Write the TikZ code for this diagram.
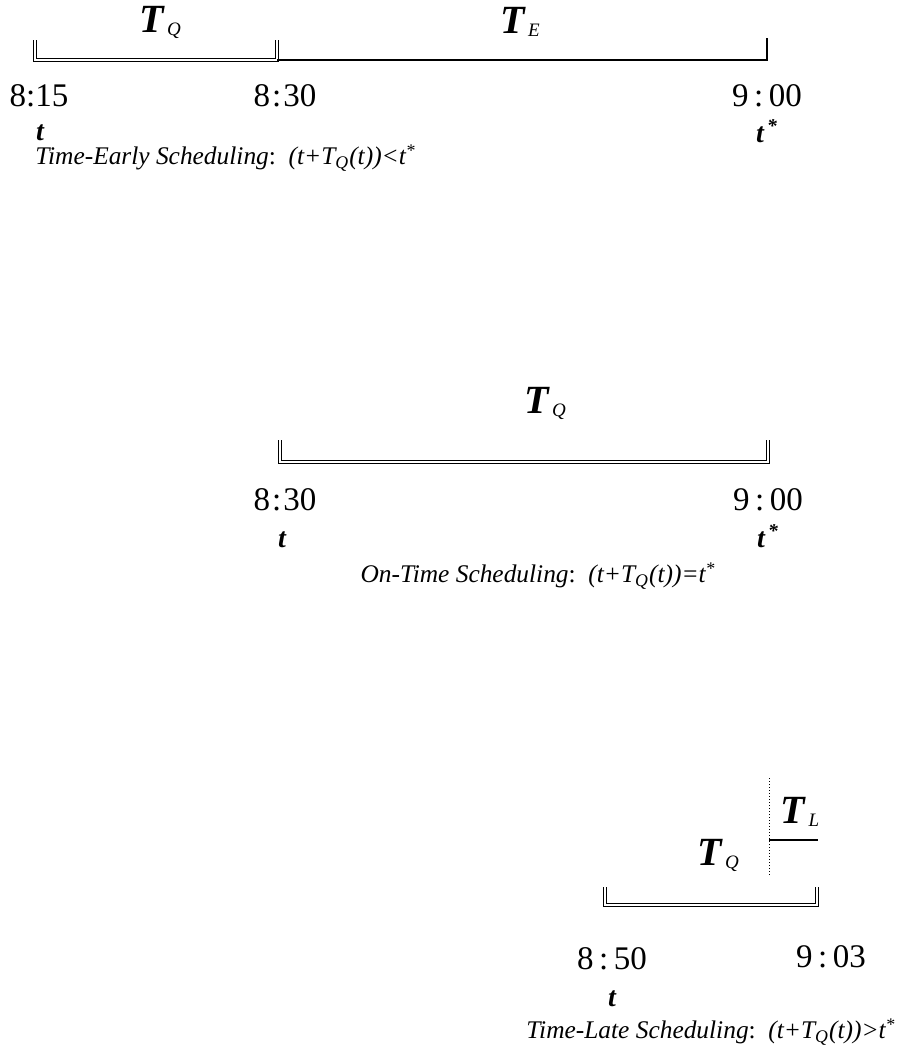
\documentclass[tikz,border=0pt]{standalone}
\usepackage{fontspec}
\setmainfont{Liberation Serif}
\usetikzlibrary{positioning}

\newcommand{\spanT}[1]{{\fontsize{20}{20}\selectfont\bfseries\itshape T}\,\raisebox{-1.5pt}{\fontsize{9.5}{9.5}\selectfont\itshape #1}}
\newcommand{\tstar}{\textit{t}\textsuperscript{\,*}}

\begin{document}
\begin{tikzpicture}[
    x=0.5pt, y=-0.5pt,
    timelab/.style={
        inner sep=0pt,
        font=\fontsize{16.5}{16.5}\selectfont
    },
    varlab/.style={
        inner sep=0pt,
        font=\fontsize{14}{14}\selectfont\bfseries\itshape
    },
    caption/.style={
        inner sep=0pt,
        font=\fontsize{12.7}{13}\selectfont\itshape
    },
    spanlab/.style={
        inner sep=0pt
    },
    dbl/.style={
        double,
        double distance=0.6pt,
        line width=0.7pt
    },
    sgl/.style={
        line width=0.6pt
    }
]
\useasboundingbox (0,0) rectangle (898,1056);

% Time-Early
\coordinate (ea) at (35,60);
\coordinate (eatop) at (35,40);
\coordinate (eb) at (277,60);
\coordinate (ebtop) at (277,40);
\coordinate (ec) at (767,60);
\coordinate (ectop) at (767,38);

\node[spanlab] (eTQ) at (160,22) {\spanT{Q}};
\node[spanlab] (eTE) at (520,22) {\spanT{E}};

\node[timelab] (e815) at (39,96) {8:15};
\node[timelab] (e830) at (285,96) {8\kern1pt:\kern1pt30};
\node[timelab] (e900) at (767,96) {9\,:\,00};
\node[varlab] (et) at (40,133) {t};
\node[varlab] (ets) at (767,131) {\tstar};
\node[caption, anchor=west] (ecap) at (35,158)
{Time-Early Scheduling\upshape:\ \ \itshape(t+T\textsubscript{Q}(t))<t\textsuperscript{*}};

\draw[dbl] (eatop) -- (ea) -- (eb) -- (ebtop);
\draw[sgl] (eb) -- (ec) -- (ectop);

% On-Time
\coordinate (oa) at (280,462);
\coordinate (oatop) at (280,440);
\coordinate (ob) at (768,462);
\coordinate (obtop) at (768,440);

\node[spanlab] (oTQ) at (545,403) {\spanT{Q}};

\node[timelab] (o830) at (285,500) {8\kern1pt:\kern1pt30};
\node[timelab] (o900) at (768,500) {9\,:\,00};
\node[varlab] (ot) at (282,540) {t};
\node[varlab] (ots) at (768,536) {\tstar};
\node[caption, anchor=east] (ocap) at (716,576)
{On-Time Scheduling\upshape:\ \ \itshape(t+T\textsubscript{Q}(t))=t\textsuperscript{*}};

\draw[dbl] (oatop) -- (oa) -- (ob) -- (obtop);

% Time-Late
\coordinate (la) at (605,905);
\coordinate (latop) at (605,887);
\coordinate (lb) at (817,905);
\coordinate (lbtop) at (817,887);
\coordinate (ltop) at (769,778);
\coordinate (lbot) at (769,877);
\coordinate (lmid) at (769,840);
\coordinate (lend) at (818,840);

\node[spanlab] (lTL) at (800,812) {\spanT{L}};
\node[spanlab] (lTQ) at (718,855) {\spanT{Q}};

\node[timelab] (l850) at (612,959) {8\,:\,50};
\node[timelab] (l903) at (831,957) {9\,:\,03};
\node[varlab] (lt) at (612,999) {t};
\node[caption, anchor=east] (lcap) at (896,1032)
{Time-Late Scheduling\upshape:\ \ \itshape(t+T\textsubscript{Q}(t))>t\textsuperscript{*}};

\draw[dbl] (latop) -- (la) -- (lb) -- (lbtop);
\draw[densely dotted, line width=0.5pt] (ltop) -- (lbot);
\draw[sgl] (lmid) -- (lend);

\end{tikzpicture}
\end{document}
